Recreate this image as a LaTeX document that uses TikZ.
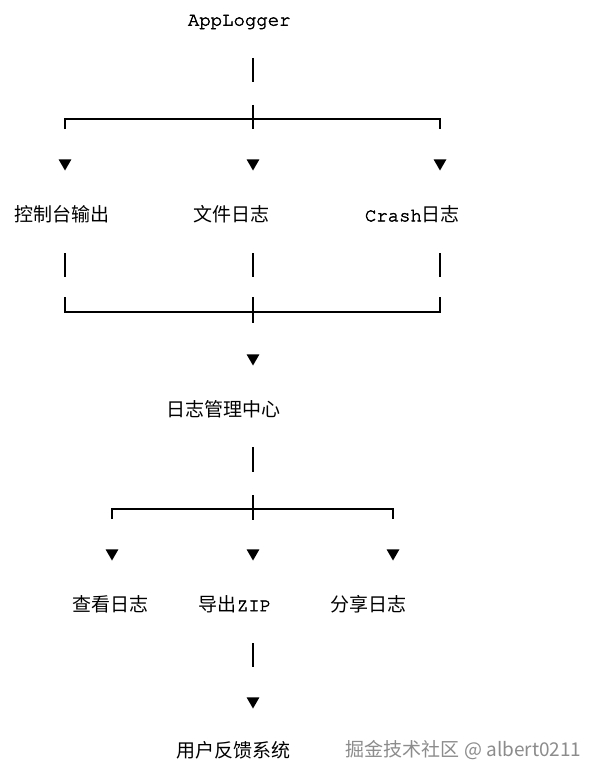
\documentclass[tikz,border=0pt]{standalone}
\usepackage{fontspec}
\setmonofont[FakeBold=2.4]{TeX Gyre Cursor}
\newfontfamily\cjk{Noto Sans CJK SC}
\usetikzlibrary{shapes.geometric}
\tikzset{
  lbl/.style={anchor=west, inner sep=0.75pt, font=\cjk\fontsize{19}{23}\selectfont},
  wm/.style={lbl, text=black!45},
  tip/.style={regular polygon, regular polygon sides=3, shape border rotate=180, fill=black, draw=none, inner sep=0pt, minimum size=15pt},
  seg/.style={line width=1.3pt}
}
\begin{document}
\begin{tikzpicture}[x=1pt,y=1pt,yscale=-1,xscale=1]
	\useasboundingbox (0,0) rectangle (597,781);
	\fill [white] (0,0) rectangle (597,781);

	%Top: AppLogger
	\draw (187,22) node [lbl] (app) {\ttfamily AppLogger};
	\coordinate (s1a) at (253,58);
	\coordinate (s1b) at (253,82);
	\draw [seg] (s1a) -- (s1b);
	%Fork into three outputs
	\coordinate (f1l) at (65,129);
	\coordinate (f1r) at (440,129);
	\coordinate (f1t) at (253,105);
	\coordinate (f1b) at (253,129);
	\draw [seg] (f1l) -- (65,119) -- (440,119) -- (f1r);
	\draw [seg] (f1t) -- (f1b);
	\node [tip] (t1) at (65,163) {};
	\node [tip] (t2) at (253,163) {};
	\node [tip] (t3) at (440,163) {};

	% Text Node
	\draw (14,214) node [lbl] (console) {控制台输出};
	% Text Node
	\draw (193,214) node [lbl] (file) {文件日志};
	% Text Node
	\draw (364,214) node [lbl] (crash) {{\ttfamily Crash}日志};

	%Join back
	\foreach \x/\n in {65/a,253/b,440/c}
		\draw [seg] (\x,253) coordinate (j\n t) -- (\x,277) coordinate (j\n b);
	\coordinate (g1l) at (65,297);
	\coordinate (g1r) at (440,297);
	\coordinate (g1t) at (253,297);
	\coordinate (g1b) at (253,323);
	\draw [seg] (g1l) -- (65,312) -- (440,312) -- (g1r);
	\draw [seg] (g1t) -- (g1b);
	\node [tip] (t4) at (253,358) {};

	% Text Node
	\draw (166,409) node [lbl] (center) {日志管理中心};

	%Fork into three actions
	\coordinate (s2a) at (253,447);
	\coordinate (s2b) at (253,472);
	\draw [seg] (s2a) -- (s2b);
	\coordinate (f2l) at (112,519);
	\coordinate (f2r) at (393,519);
	\coordinate (f2t) at (253,495);
	\coordinate (f2b) at (253,520);
	\draw [seg] (f2l) -- (112,509) -- (393,509) -- (f2r);
	\draw [seg] (f2t) -- (f2b);
	\node [tip] (t5) at (112,553) {};
	\node [tip] (t6) at (253,553) {};
	\node [tip] (t7) at (393,553) {};

	% Text Node
	\draw (72,604) node [lbl] (view) {查看日志};
	% Text Node
	\draw (198,604) node [lbl] (export) {导出{\ttfamily ZIP}};
	% Text Node
	\draw (330,604) node [lbl] (share) {分享日志};

	\coordinate (s3a) at (253,643);
	\coordinate (s3b) at (253,667);
	\draw [seg] (s3a) -- (s3b);
	\node [tip] (t8) at (253,701) {};

	% Text Node
	\draw (176,750) node [lbl] (feedback) {用户反馈系统};
	% Text Node
	\draw (345,750) node [wm] (mark) {掘金技术社区 @ albert0211};
\end{tikzpicture}
\end{document}
